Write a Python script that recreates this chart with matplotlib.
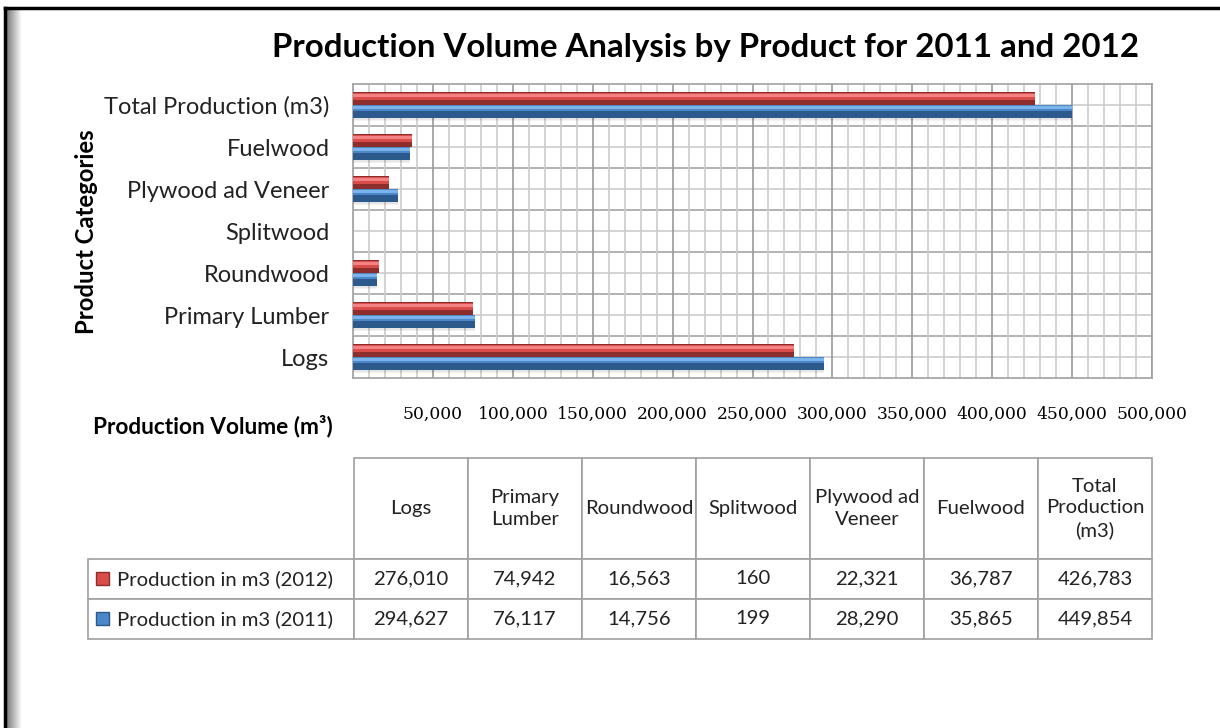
import matplotlib.pyplot as plt
import numpy as np
from matplotlib.patches import Rectangle

# data
categories = ["Logs", "Primary Lumber", "Roundwood", "Splitwood",
              "Plywood ad Veneer", "Fuelwood", "Total Production (m3)"]
prod_2012 = [276010, 74942, 16563, 160, 22321, 36787, 426783]
prod_2011 = [294627, 76117, 14756, 199, 28290, 35865, 449854]
col_headers = ["Logs", "Primary\nLumber", "Roundwood", "Splitwood",
               "Plywood ad\nVeneer", "Fuelwood", "Total\nProduction\n(m3)"]
row_labels = ["Production in m3 (2012)", "Production in m3 (2011)"]
x_ticks = [50000, 100000, 150000, 200000, 250000, 300000, 350000, 400000, 450000, 500000]

W, H = 1220, 728
plt.rcParams["font.family"] = ["Lato", "DejaVu Sans"]


def px(x, y, w, h):
    return [x / W, 1 - (y + h) / H, w / W, h / H]


fig = plt.figure(figsize=(W / 100, H / 100), dpi=100, facecolor="white")

# frame + left shadow
bg = fig.add_axes([0, 0, 1, 1], zorder=-5)
grad = np.linspace(0.5, 1.0, 20).reshape(1, -1)
bg.imshow(grad, cmap="gray", vmin=0, vmax=1, extent=[7, 22, H, 9], aspect="auto")
bg.plot([5, 5], [8, H], color="black", lw=2.5)
bg.plot([5, W], [8, 8], color="black", lw=2.5)
bg.set_xlim(0, W)
bg.set_ylim(H, 0)
bg.axis("off")

# bar chart
ax = fig.add_axes(px(353, 84, 799, 294))
y = np.arange(len(categories))
h = 0.3

# shadows below the bars
for k in range(4):
    ax.barh(y - 0.3 - 0.03 * k, prod_2011, height=0.06, align="edge",
            color="black", alpha=0.05, lw=0, zorder=2)

# 2011 (blue) bevel layers
ax.barh(y - h, prod_2011, height=h, align="edge", color="#2c5a8c", lw=0, zorder=3)
ax.barh(y - h * 0.45, prod_2011, height=h * 0.42, align="edge", color="#4a86c8", lw=0, zorder=3)
ax.barh(y - h * 0.35, prod_2011, height=h * 0.25, align="edge", color="#7ab4ea", lw=0, zorder=3)
# 2012 (red) bevel layers
ax.barh(y, prod_2012, height=h, align="edge", color="#8e2e2c", lw=0, zorder=3)
ax.barh(y + h * 0.4, prod_2012, height=h * 0.55, align="edge", color="#d84c4a", lw=0, zorder=3)
ax.barh(y + h * 0.62, prod_2012, height=h * 0.25, align="edge", color="#f58282", lw=0, zorder=3)

ax.set_xlim(0, 500000)
ax.set_ylim(-0.5, len(categories) - 0.5)

# grid
ax.set_xticks(x_ticks)
ax.set_xticks(np.arange(0, 500001, 10000), minor=True)
ax.grid(which="minor", axis="x", color="#cccccc", lw=1.2, zorder=0)
ax.grid(which="major", axis="x", color="#999999", lw=1.2, zorder=0)
ax.hlines(y, 0, 500000, color="#cccccc", lw=1.2, zorder=0)
ax.hlines(y[:-1] + 0.5, 0, 500000, color="#a6a6a6", lw=1.2, zorder=0)
ax.set_axisbelow(True)

ax.set_xticklabels(["{:,}".format(v) for v in x_ticks], family="DejaVu Serif", fontsize=12.3,
                   color="black")
ax.tick_params(axis="x", which="both", length=0, pad=20)
ax.set_yticks(y)
ax.set_yticklabels(categories, fontsize=17, color="#222222")
ax.tick_params(axis="y", which="both", length=0, pad=17)
for s in ax.spines.values():
    s.set_color("#a0a0a0")
    s.set_linewidth(1.2)

fig.text(705 / W, 1 - 48 / H, "Production Volume Analysis by Product for 2011 and 2012",
         fontsize=23.8, fontweight="bold", ha="center", va="center")
fig.text(86 / W, 1 - 232 / H, "Product Categories", fontsize=17.2, fontweight="bold",
         rotation=90, ha="center", va="center")
fig.text(93 / W, 1 - 426 / H, "Production Volume (m³)", fontsize=16.3, fontweight="bold",
         ha="left", va="center")

# data table
tax = fig.add_axes(px(88, 458, 1064, 181))
tax.axis("off")
cell_text = [[row_labels[0]] + ["{:,}".format(v) for v in prod_2012],
             [row_labels[1]] + ["{:,}".format(v) for v in prod_2011]]
tbl = tax.table(cellText=cell_text, colLabels=[""] + col_headers,
                cellLoc="center", colWidths=[266] + [114] * 7, bbox=[0, 0, 1, 1])
tbl.auto_set_font_size(False)
for (r, c), cell in tbl.get_celld().items():
    cell.set_edgecolor("#a0a0a0")
    cell.set_linewidth(1.2)
    cell.get_text().set_fontsize(14.6)
    cell.get_text().set_color("#222222")
    cell.get_text().set_linespacing(1.3)
    cell.get_text().set_clip_on(False)
    cell.set_height(101 if r == 0 else 40)
    if c == 0:
        if r == 0:
            cell.visible_edges = ""
        else:
            cell._loc = "left"
            cell.PAD = (117 - 88) / 266
            cell.get_text().set_ha("left")

# legend keys in the row label column
for i, (col, dark) in enumerate([("#d84c4a", "#8e2e2c"), ("#4a86c8", "#2c5a8c")]):
    yc = 579 + 40 * i
    tax.add_patch(Rectangle(((96 - 88) / 1064, 1 - (yc + 6 - 458) / 181), 13 / 1064, 13 / 181,
                            transform=tax.transAxes, facecolor=col, edgecolor=dark, lw=1,
                            zorder=5, clip_on=False))

fig.savefig("out.png", dpi=100, facecolor="white")
